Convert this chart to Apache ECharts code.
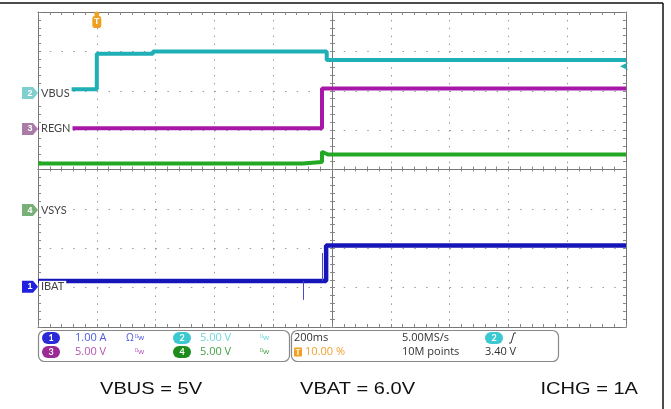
<!DOCTYPE html>
<html>
<head>
<meta charset="utf-8">
<script src="https://cdn.jsdelivr.net/npm/echarts@6/dist/echarts.min.js"></script>
<style>
html, body { margin: 0; padding: 0; background: #fff; }
#chart { width: 671px; height: 409px; }
</style>
</head>
<body>
<div id="chart"></div>
<script>
// time in ms from the trigger (200 ms/div, trigger at 10 %)
const vbusT = [-200, 0, 0, 191, 191, 782, 782, 1800];
const vbusV = [0.5, 0.5, 5.0, 5.0, 5.3, 5.3, 4.2, 4.2];      // V
const regnT = [-200, 766, 766, 1800];
const regnV = [0.1, 0.1, 5.15, 5.15];                         // V
const vsysT = [-200, 701, 701, 766, 766, 786, 1800];
const vsysV = [5.9, 5.9, 6.1, 6.1, 7.4, 7.05, 7.05];          // V
const ibatT = [-200, 780, 780, 1800];
const ibatV = [0.15, 0.15, 1.05, 1.05];                       // A
const ibatSpikeT = [701, 766];
const ibatSpikeV = [-0.33, 0.86];

// channel settings: volts (or amps) per division and ground position in divisions
const chNames = ['IBAT', 'VBUS', 'REGN', 'VSYS'];
const chNums = ['1', '2', '3', '4'];
const chScale = [1, 5, 5, 5];
const chOffset = [-2.98, 1.94, 1.03, -1.03];
const chScaleText = ['1.00 A', '5.00 V', '5.00 V', '5.00 V'];
const trigLevel = 3.40;
const timeText = ['200ms', '10.00 %', '5.00MS/s', '10M points', '3.40 V'];
const captions = ['VBUS = 5V', 'VBAT = 6.0V', 'ICHG = 1A'];

const traceColor = ['#1616b8', '#1eb0b6', '#a818a8', '#22a822'];
const markColor = ['#2020e0', '#7fcfcf', '#a87ca6', '#78b078'];
const pillColor = ['#2a2ad8', '#3cc8d0', '#9a2a96', '#1c8c1c'];
const textColor = ['#4c5ae0', '#6fd6da', '#b655b6', '#45a045'];

const chart = echarts.init(document.getElementById('chart'));

function pts(ts, vs, ch) {
  return ts.map((t, i) => [t, vs[i] / chScale[ch] + chOffset[ch]]);
}

function chanMarks(ch) {
  return [
    {
      coord: [-200, chOffset[ch]],
      symbol: 'path://M0,0 L11,0 L16,6 L11,12 L0,12 Z',
      symbolSize: [16, 12],
      symbolOffset: [-8, 0],
      itemStyle: { color: markColor[ch] },
      label: { show: true, formatter: chNums[ch], color: '#fff', fontSize: 9, fontWeight: 'bold', position: 'inside' }
    },
    {
      coord: [-200, chOffset[ch]],
      symbol: 'rect',
      symbolSize: 0,
      label: {
        show: true, formatter: chNames[ch], position: 'right', distance: 1,
        color: '#444', fontSize: 11, fontFamily: 'Lato',
        backgroundColor: '#fff', padding: [1, 2, 0, 2]
      }
    }
  ];
}

function traceSeries(ch, data, width, extraMarks) {
  return {
    name: chNames[ch],
    type: 'line',
    data: data,
    symbol: 'none',
    clip: false,
    lineStyle: { color: traceColor[ch], width: width },
    markPoint: {
      silent: true,
      animation: false,
      data: chanMarks(ch).concat(extraMarks || [])
    }
  };
}

const axisGrey = '#888';
function xAx(extra) {
  return Object.assign({
    type: 'value', min: -200, max: 1800, interval: 200,
    axisLabel: { show: false },
    splitLine: { show: false },
    axisLine: { show: true, onZero: false, lineStyle: { color: '#777', width: 1 } },
    axisTick: { show: true, inside: true, length: 3, lineStyle: { color: axisGrey } },
    minorTick: { show: true, splitNumber: 5, length: 3, lineStyle: { color: axisGrey } }
  }, extra);
}
function yAx(extra) {
  return Object.assign({
    type: 'value', min: -4, max: 4, interval: 1,
    axisLabel: { show: false },
    splitLine: { show: false },
    axisLine: { show: true, onZero: false, lineStyle: { color: '#777', width: 1 } },
    axisTick: { show: true, inside: true, length: 3, lineStyle: { color: axisGrey } },
    minorTick: { show: true, splitNumber: 5, length: 3, lineStyle: { color: axisGrey } }
  }, extra);
}

// status panel below the screen
const F = '"Open Sans"';
function txt(x, y, s, color, size) {
  return { type: 'text', x: x, y: y, z: 10, style: { text: s, fill: color, font: (size || 11) + 'px ' + F, align: 'left', verticalAlign: 'middle' } };
}
function pill(x, y, ch) {
  return {
    type: 'group', x: x, y: y, z: 10, children: [
      { type: 'rect', shape: { x: 0, y: -6, width: 18, height: 12, r: 6 }, style: { fill: pillColor[ch] } },
      { type: 'text', x: 9, y: 0, style: { text: chNums[ch], fill: '#fff', font: 'bold 9px Lato', align: 'center', verticalAlign: 'middle' } }
    ]
  };
}
function caption(x, s, align) {
  return {
    type: 'text', x: x, y: 389, z: 10, scaleX: 1.18,
    style: { text: s, fill: '#111', font: '17px "Liberation Sans"', align: align, verticalAlign: 'middle' }
  };
}
const rowY = [338, 352];
const panel = [
  { type: 'rect', shape: { x: 38.5, y: 330.5, width: 251, height: 31, r: 6 }, style: { fill: 'none', stroke: '#888', lineWidth: 1.2 } },
  { type: 'rect', shape: { x: 291.5, y: 330.5, width: 267, height: 31, r: 6 }, style: { fill: 'none', stroke: '#888', lineWidth: 1.2 } },
  pill(42, rowY[0], 0), txt(75, rowY[0], chScaleText[0], textColor[0]),
  txt(126, rowY[0], 'Ω', textColor[0], 10), txt(135, rowY[0], 'ᴮw', textColor[0], 8),
  pill(42, rowY[1], 2), txt(75, rowY[1], chScaleText[2], textColor[2]),
  txt(135, rowY[1], 'ᴮw', textColor[2], 8),
  pill(173, rowY[0], 1), txt(200, rowY[0], chScaleText[1], textColor[1]),
  txt(260, rowY[0], 'ᴮw', textColor[1], 8),
  pill(173, rowY[1], 3), txt(200, rowY[1], chScaleText[3], textColor[3]),
  txt(260, rowY[1], 'ᴮw', textColor[3], 8),
  txt(294, rowY[0], timeText[0], '#333'),
  {
    type: 'group', x: 294, y: rowY[1], z: 10, children: [
      { type: 'rect', shape: { x: 0, y: -4.5, width: 8, height: 9, r: 1 }, style: { fill: '#f0a020' } },
      { type: 'text', x: 4, y: 0, style: { text: 'T', fill: '#fff', font: 'bold 8px Lato', align: 'center', verticalAlign: 'middle' } }
    ]
  },
  txt(305, rowY[1], timeText[1], '#f0a030'),
  txt(402, rowY[0], timeText[2], '#333'),
  txt(402, rowY[1], timeText[3], '#333'),
  pill(485, rowY[0], 1),
  { type: 'polyline', x: 509, y: rowY[0], z: 10, shape: { points: [[0, 5], [2, 5], [5, -5], [7, -5]] }, style: { stroke: '#333', fill: 'none', lineWidth: 1 } },
  txt(485, rowY[1], timeText[4], '#333'),
  caption(100, captions[0], 'left'),
  caption(300, captions[1], 'left'),
  caption(638, captions[2], 'right'),
  // page frame
  { type: 'line', z: 10, shape: { x1: 0, y1: 3, x2: 663, y2: 3 }, style: { stroke: '#111', lineWidth: 1.5 } },
  { type: 'line', z: 10, shape: { x1: 663, y1: 3, x2: 663, y2: 409 }, style: { stroke: '#111', lineWidth: 1.5 } }
];

const option = {
  animation: false,
  backgroundColor: '#fff',
  grid: { left: 38, top: 12, width: 588, height: 315, show: false },
  xAxis: [
    xAx({ position: 'bottom', splitLine: { show: true, lineStyle: { color: '#999', width: 1, type: [1.5, 6.375] } } }),
    xAx({ position: 'top' }),
    xAx({ position: 'bottom', offset: -157.5 }),
    xAx({ position: 'bottom', offset: -157.5, axisTick: { show: true, inside: false, length: 2, lineStyle: { color: axisGrey } }, minorTick: { show: true, splitNumber: 5, length: 2, lineStyle: { color: axisGrey } } })
  ],
  yAxis: [
    yAx({ position: 'left', splitLine: { show: true, lineStyle: { color: '#999', width: 1, type: [1.5, 10.26] } } }),
    yAx({ position: 'right' }),
    yAx({ position: 'left', offset: -294 }),
    yAx({ position: 'left', offset: -294, axisTick: { show: true, inside: false, length: 2, lineStyle: { color: axisGrey } }, minorTick: { show: true, splitNumber: 5, length: 2, lineStyle: { color: axisGrey } } })
  ],
  series: [
    traceSeries(3, pts(vsysT, vsysV, 3), 4),
    traceSeries(2, pts(regnT, regnV, 2), 4),
    traceSeries(1, pts(vbusT, vbusV, 1), 4, [
      { coord: [0, 4], symbol: 'circle', symbolSize: 5, symbolOffset: [0, 2], itemStyle: { color: '#f0a020' } },
      {
        coord: [0, 4], symbol: 'roundRect', symbolSize: [9, 12], symbolOffset: [0, 10], itemStyle: { color: '#f0a020' },
        label: { show: true, formatter: 'T', color: '#fff', fontSize: 9, fontWeight: 'bold', position: 'inside' }
      },
      { coord: [1800, trigLevel / chScale[1] + chOffset[1]], symbol: 'arrow', symbolRotate: 90, symbolSize: [6, 8], symbolOffset: [-6, 0], itemStyle: { color: traceColor[1] } }
    ]),
    Object.assign(traceSeries(0, pts(ibatT, ibatV, 0), 4.5), {
      markLine: {
        silent: true, animation: false, symbol: 'none',
        label: { show: false },
        lineStyle: { color: '#4848d0', width: 1, type: 'solid' },
        data: ibatSpikeT.map((t, i) => [
          { coord: [t, ibatV[0] / chScale[0] + chOffset[0]] },
          { coord: [t, ibatSpikeV[i] / chScale[0] + chOffset[0]] }
        ])
      }
    })
  ],
  graphic: panel
};

chart.setOption(option);
</script>
</body>
</html>
